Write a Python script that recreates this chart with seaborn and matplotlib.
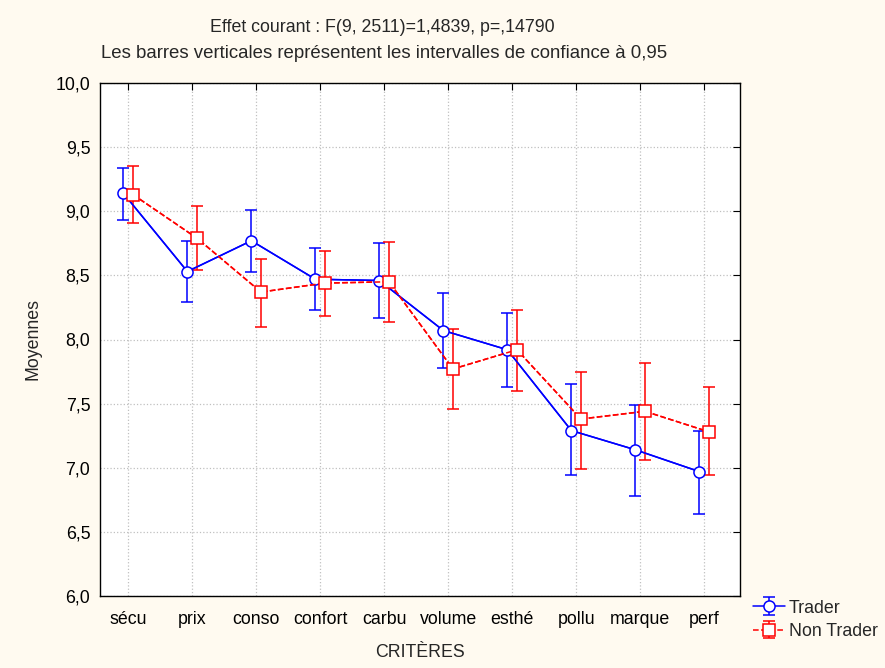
import numpy as np
import pandas as pd
import matplotlib
matplotlib.use("Agg")
import matplotlib.pyplot as plt
from matplotlib.ticker import FuncFormatter
import seaborn as sns

# data
criteres = ["sécu", "prix", "conso", "confort", "carbu", "volume", "esthé", "pollu", "marque", "perf"]
trader_mean = [9.14, 8.53, 8.77, 8.47, 8.46, 8.07, 7.92, 7.29, 7.14, 6.97]
trader_low = [8.93, 8.29, 8.53, 8.23, 8.17, 7.78, 7.63, 6.94, 6.78, 6.64]
trader_high = [9.34, 8.77, 9.01, 8.71, 8.75, 8.36, 8.21, 7.65, 7.49, 7.29]
non_mean = [9.13, 8.79, 8.37, 8.44, 8.45, 7.77, 7.92, 7.38, 7.44, 7.28]
non_low = [8.91, 8.54, 8.10, 8.18, 8.14, 7.46, 7.60, 6.99, 7.06, 6.94]
non_high = [9.35, 9.04, 8.63, 8.69, 8.76, 8.08, 8.23, 7.75, 7.82, 7.63]

sns.set_style("white")
plt.rcParams["font.family"] = ["Liberation Sans", "DejaVu Sans"]
FS = 12.8

fig = plt.figure(figsize=(8.85, 6.68), dpi=100, facecolor="#fffaf0")
ax = fig.add_axes([100 / 885, 1 - 596 / 668, 640 / 885, 513 / 668])
ax.set_facecolor("white")

x = np.arange(len(criteres))
groups = [
    ("Trader", trader_mean, trader_low, trader_high, "#0000ff", "o", "-", -0.075),
    ("Non Trader", non_mean, non_low, non_high, "#ff0000", "s", "--", 0.075),
]
handles = []
for name, m, lo, hi, col, mk, ls, off in groups:
    df = pd.DataFrame({"x": x + off, "y": m})
    m = np.array(m)
    yerr = [m - np.array(lo), np.array(hi) - m]
    sns.lineplot(data=df, x="x", y="y", ax=ax, color=col, linestyle=ls,
                 linewidth=1.1, marker=None, legend=False)
    h = ax.errorbar(x + off, m, yerr=yerr, fmt=mk, color=col, ecolor=col,
                    elinewidth=1.1, capsize=4, capthick=1.1, markersize=8,
                    markerfacecolor="white", markeredgecolor=col,
                    markeredgewidth=1.1, linestyle=ls, linewidth=1.1, zorder=3)
    handles.append(h)

ax.set_xlim(-0.44, 9.56)
ax.set_ylim(6.0, 10.0)
ax.set_xticks(x)
ax.set_xticklabels(criteres)
ax.set_yticks(np.arange(6.0, 10.01, 0.5))
ax.yaxis.set_major_formatter(FuncFormatter(lambda v, p: f"{v:.1f}".replace(".", ",")))
ax.grid(True, color="#c0c0c0", linestyle=":", linewidth=0.9)
ax.tick_params(direction="in", length=5, top=True, right=True, labelsize=FS, colors="black")
ax.tick_params(axis="x", pad=11)
ax.tick_params(axis="y", pad=7)
for s in ax.spines.values():
    s.set_color("black")
    s.set_linewidth(1.0)

ax.set_xlabel("CRITÈRES", fontsize=FS, labelpad=11)
ax.set_ylabel("Moyennes", fontsize=FS, labelpad=10)

fig.text(382 / 885, 1 - 27 / 668, "Effet courant : F(9, 2511)=1,4839, p=,14790",
         ha="center", va="center", fontsize=FS)
fig.text(384 / 885, 1 - 54 / 668, "Les barres verticales représentent les intervalles de confiance à 0,95",
         ha="center", va="center", fontsize=13.4)

fig.legend(handles, ["Trader", "Non Trader"], loc="upper left",
           bbox_to_anchor=(749 / 885, 1 - 596 / 668), frameon=False,
           fontsize=FS, handlelength=1.8, handletextpad=0.25,
           labelspacing=0.35, borderpad=0.1, borderaxespad=0.1)

fig.savefig("out.png", dpi=100, facecolor=fig.get_facecolor())
